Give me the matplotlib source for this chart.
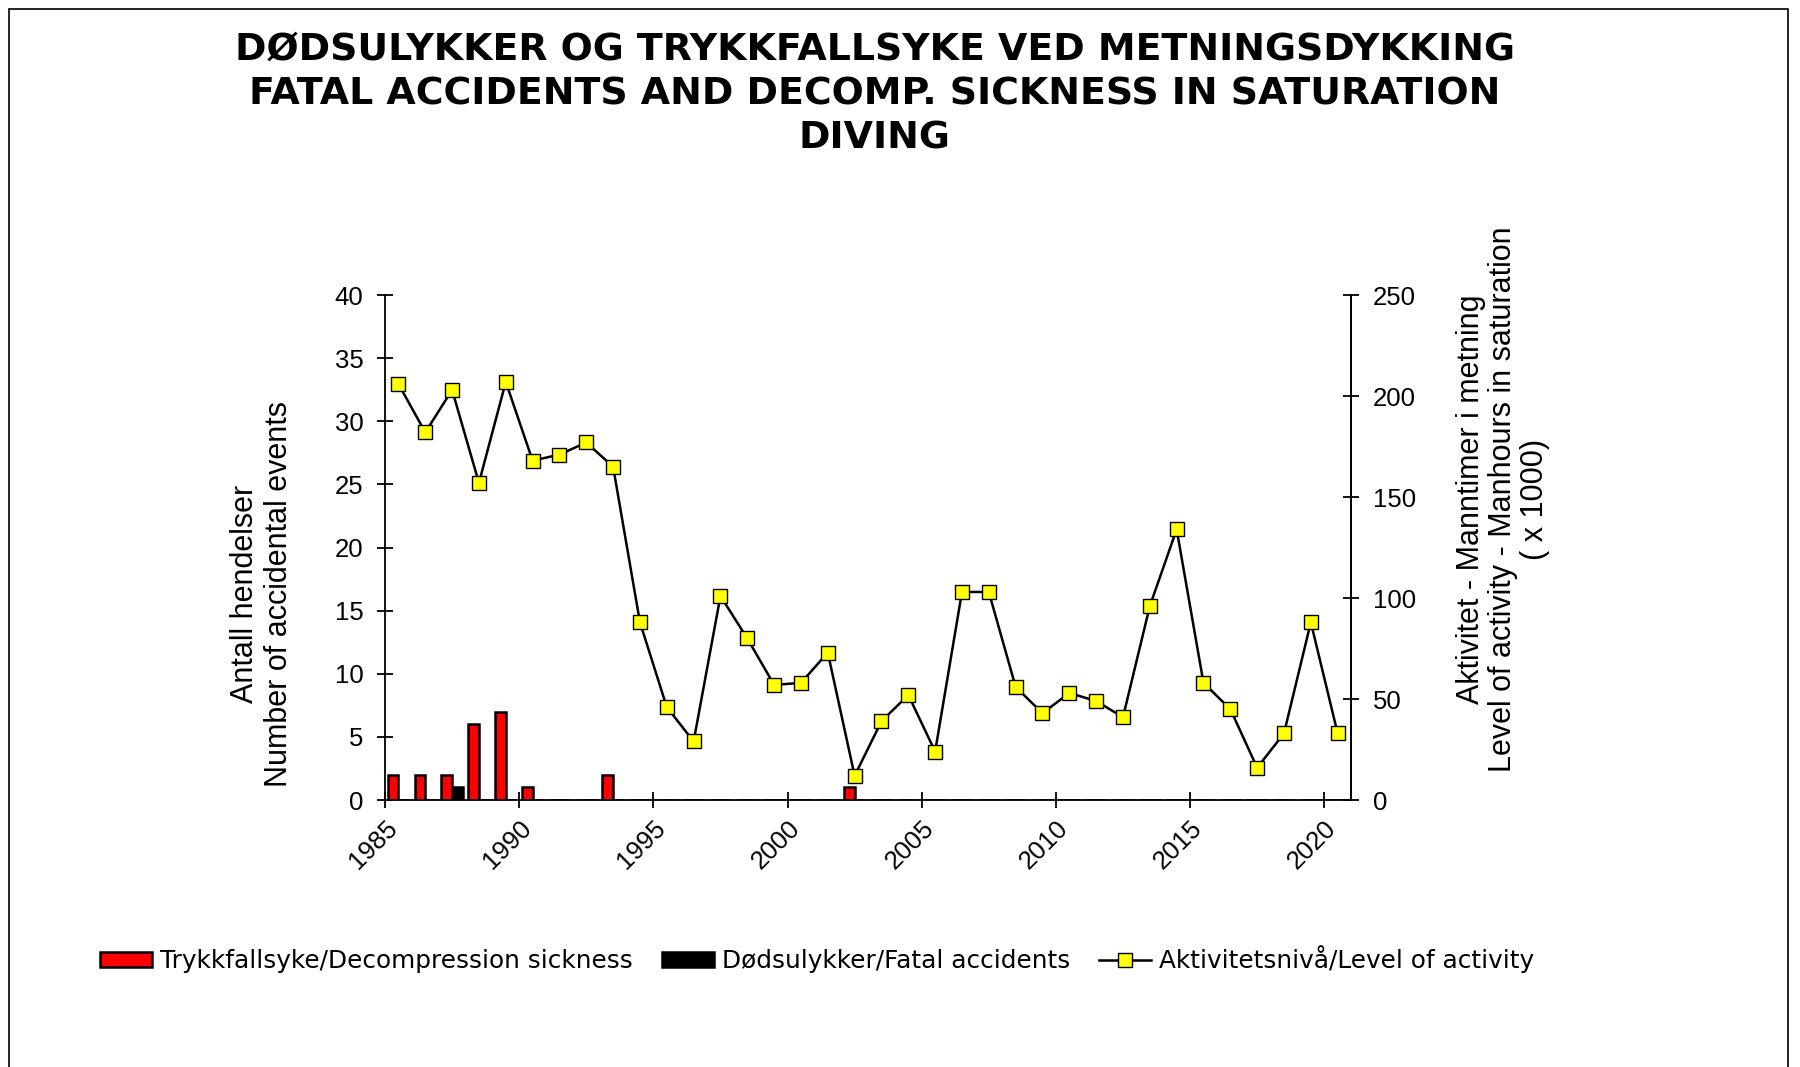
import numpy as np
import matplotlib
matplotlib.use('Agg')
import matplotlib.pyplot as plt
from matplotlib.patches import Rectangle

# årstall
years = list(range(1985, 2021))

# trykkfallsyke / decompression sickness
dcs = [2, 2, 2, 6, 7, 1, 0, 0, 2, 0, 0, 0, 0, 0, 0, 0, 0, 1,
       0, 0, 0, 0, 0, 0, 0, 0, 0, 0, 0, 0, 0, 0, 0, 0, 0, 0]

# dødsulykker / fatal accidents
fatal = [0, 0, 1, 0, 0, 0, 0, 0, 0, 0, 0, 0, 0, 0, 0, 0, 0, 0,
         0, 0, 0, 0, 0, 0, 0, 0, 0, 0, 0, 0, 0, 0, 0, 0, 0, 0]

# aktivitetsnivå, manntimer x 1000
activity = [206, 182, 203, 157, 207, 168, 171, 177, 165, 88, 46, 29,
            101, 80, 57, 58, 73, 12, 39, 52, 24, 103, 103, 56, 43, 53,
            49, 41, 96, 134, 58, 45, 16, 33, 88, 33]

tick_years = [1985, 1990, 1995, 2000, 2005, 2010, 2015, 2020]

arial = 'Liberation Sans'
verdana = 'DejaVu Sans'

fig = plt.figure(figsize=(18, 10.67), dpi=100)
ax = fig.add_axes([0.2139, 0.2502, 0.5367, 0.4733])
ax2 = ax.twinx()

x = np.arange(len(years))
ax.bar(x - 0.2, dcs, width=0.4, color='#ff0000', edgecolor='black', linewidth=1.8,
       label='Trykkfallsyke/Decompression sickness')
ax.bar(x + 0.2, fatal, width=0.4, color='black', edgecolor='black', linewidth=1.8,
       label='Dødsulykker/Fatal accidents')
ax2.plot(x, activity, color='black', linewidth=1.8, marker='s', markersize=10,
         markerfacecolor='#ffff00', markeredgecolor='black', markeredgewidth=1.0,
         label='Aktivitetsnivå/Level of activity')

ax.set_xlim(-0.5, len(years) - 0.5)
ax.set_ylim(0, 40)
ax2.set_ylim(0, 250)
ax.set_yticks(range(0, 41, 5))
ax2.set_yticks(range(0, 251, 50))
ax.set_xticks([years.index(y) - 0.5 for y in tick_years])
ax.set_xticklabels([str(y) for y in tick_years], rotation=45, ha='right', va='top',
                   rotation_mode='anchor', fontsize=18.5, family=arial)

for a in (ax, ax2):
    a.spines['top'].set_visible(False)
    for s in a.spines.values():
        s.set_linewidth(1.3)
ax2.spines['left'].set_visible(False)
ax2.spines['bottom'].set_visible(False)

ax.tick_params(axis='y', direction='inout', length=11, width=1.3, pad=10, labelsize=18.5)
ax.tick_params(axis='x', direction='inout', length=11, width=1.3, pad=6)
ax2.tick_params(axis='y', direction='inout', length=11, width=1.3, pad=10, labelsize=18.5)
for lab in ax.get_yticklabels() + ax2.get_yticklabels():
    lab.set_family(arial)

fig.text(0.1455, 0.443, 'Antall hendelser\nNumber of accidental events', rotation=90,
         ha='center', va='center', multialignment='center', fontsize=22, family=arial,
         linespacing=1.15)
fig.text(0.835, 0.532, 'Aktivitet - Manntimer i metning\nLevel of activity - Manhours in saturation\n( x 1000)',
         rotation=90, ha='center', va='center', multialignment='center', fontsize=22,
         family=arial, linespacing=1.1)

fig.text(0.486, 1 - 32 / 1067,
         'DØDSULYKKER OG TRYKKFALLSYKE VED METNINGSDYKKING\n'
         'FATAL ACCIDENTS AND DECOMP. SICKNESS IN SATURATION\nDIVING',
         ha='center', va='top', fontsize=27.3, fontweight='bold', family=verdana,
         linespacing=1.3)

h1, l1 = ax.get_legend_handles_labels()
h2, l2 = ax2.get_legend_handles_labels()
fig.legend(h1 + h2, l1 + l2, loc='center', bbox_to_anchor=(0.454, 0.101), ncol=3,
           frameon=False, prop={'family': verdana, 'size': 17.8}, handlelength=2.1,
           handleheight=0.55, handletextpad=0.3, columnspacing=1.2)

# ramme rundt figuren
fig.patches.append(Rectangle((9 / 1800, -0.02), (1788 - 9) / 1800, 1.02 - 9 / 1067,
                             transform=fig.transFigure, fill=False, edgecolor='black',
                             linewidth=1.2))

fig.savefig('out.png', dpi=100)
